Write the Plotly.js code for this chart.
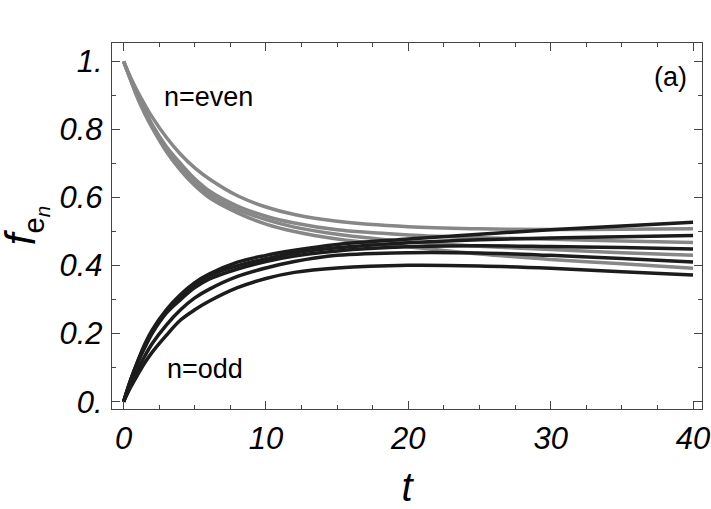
<!DOCTYPE html>
<html>
<head>
<meta charset="utf-8">
<script src="https://cdn.plot.ly/plotly-3.0.1.min.js"></script>
<style>
  html, body { margin: 0; padding: 0; background: #fff; }
  #plot { width: 711px; height: 509px; }
</style>
</head>
<body>
<div id="plot"></div>
<script>
// sample times
const t = [0, 0.5, 1, 1.5, 2, 3, 4, 5, 6, 8, 10, 12, 15, 20, 25, 30, 35, 40];

// n = even occupations (start at 1)
const even1 = [1, 0.952, 0.910, 0.872, 0.837, 0.777, 0.727, 0.687, 0.655, 0.605, 0.572, 0.550, 0.530, 0.514, 0.508, 0.506, 0.507, 0.508];
const even2 = [1, 0.948, 0.900, 0.856, 0.815, 0.750, 0.700, 0.655, 0.620, 0.575, 0.545, 0.525, 0.505, 0.490, 0.482, 0.477, 0.472, 0.468];
const even3 = [1, 0.946, 0.895, 0.850, 0.810, 0.742, 0.690, 0.645, 0.610, 0.565, 0.535, 0.513, 0.492, 0.470, 0.457, 0.447, 0.438, 0.430];
const even4 = [1, 0.944, 0.890, 0.845, 0.805, 0.735, 0.680, 0.635, 0.600, 0.555, 0.522, 0.500, 0.478, 0.455, 0.434, 0.418, 0.405, 0.392];

// n = odd occupations (start at 0)
const odd1 = [0, 0.065, 0.120, 0.170, 0.210, 0.270, 0.315, 0.350, 0.375, 0.410, 0.430, 0.445, 0.462, 0.478, 0.492, 0.505, 0.516, 0.527];
const odd2 = [0, 0.064, 0.118, 0.165, 0.205, 0.265, 0.310, 0.345, 0.370, 0.400, 0.420, 0.437, 0.452, 0.467, 0.476, 0.481, 0.485, 0.488];
const odd3 = [0, 0.062, 0.115, 0.160, 0.200, 0.260, 0.300, 0.335, 0.360, 0.390, 0.412, 0.428, 0.443, 0.455, 0.458, 0.456, 0.453, 0.449];
const odd4 = [0, 0.050, 0.095, 0.135, 0.170, 0.225, 0.270, 0.305, 0.330, 0.368, 0.393, 0.412, 0.430, 0.438, 0.437, 0.430, 0.421, 0.4105];
const odd5 = [0, 0.043, 0.080, 0.115, 0.145, 0.195, 0.240, 0.270, 0.295, 0.335, 0.362, 0.380, 0.393, 0.401, 0.399, 0.392, 0.382, 0.372];

const xTicks = [0, 10, 20, 30, 40];
const yTickVals = [0, 0.2, 0.4, 0.6, 0.8, 1];
const yTickText = ['0.', '0.2', '0.4', '0.6', '0.8', '1.'];

const GRAY = '#878787';
const DARK = '#1c1c1c';
const FONT = 'Liberation Sans, Arial, sans-serif';

function curve(y, color) {
  return {
    x: t, y: y, type: 'scatter', mode: 'lines',
    line: { color: color, width: 3.5, shape: 'spline', smoothing: 1 },
    hoverinfo: 'skip', showlegend: false
  };
}

const traces = [
  curve(even1, GRAY), curve(even2, GRAY), curve(even3, GRAY), curve(even4, GRAY),
  curve(odd1, DARK), curve(odd2, DARK), curve(odd3, DARK), curve(odd4, DARK), curve(odd5, DARK)
];

const axisCommon = {
  showline: true, linecolor: '#444', linewidth: 1.2,
  mirror: 'allticks', ticks: 'inside', tickcolor: '#444', tickwidth: 1,
  ticklen: 8, showgrid: false, zeroline: false,
  tickfont: { family: FONT, size: 31, color: '#000', style: 'italic' }
};

const layout = {
  width: 711, height: 509,
  margin: { l: 112, r: 9, t: 43, b: 100 },
  paper_bgcolor: '#fff', plot_bgcolor: '#fff',
  xaxis: Object.assign({}, axisCommon, {
    range: [-0.815, 40.63],
    tickvals: xTicks,
    minor: { dtick: 2.5, ticks: 'inside', ticklen: 4, tickcolor: '#444', tickwidth: 1 },
    ticklabelstandoff: 2,
    title: { text: '<i>t</i>', font: { family: FONT, size: 40, color: '#000' }, standoff: 18 }
  }),
  yaxis: Object.assign({}, axisCommon, {
    range: [-0.0215, 1.054],
    tickvals: yTickVals, ticktext: yTickText,
    minor: { dtick: 0.1, ticks: 'inside', ticklen: 4, tickcolor: '#444', tickwidth: 1 },
    ticklabelstandoff: 2
  }),
  annotations: [
    // y-axis label, placed by hand for a tight fit beside the tick labels
    { x: -0.147, y: 0.5, xref: 'paper', yref: 'paper', xanchor: 'center', yanchor: 'middle',
      text: '<i>f</i><sub>e<sub><i>n</i></sub></sub>', textangle: -90, showarrow: false,
      font: { family: FONT, size: 42, color: '#000' } },
    { x: 38.45, y: 0.954, xref: 'x', yref: 'y', text: '(a)', showarrow: false,
      font: { family: FONT, size: 27, color: '#000' } },
    { x: 5.99, y: 0.895, xref: 'x', yref: 'y', text: 'n=even', showarrow: false,
      font: { family: FONT, size: 27, color: '#000' } },
    { x: 5.70, y: 0.095, xref: 'x', yref: 'y', text: 'n=odd', showarrow: false,
      font: { family: FONT, size: 27, color: '#000' } }
  ]
};

Plotly.newPlot('plot', traces, layout, { displayModeBar: false, staticPlot: true });
</script>
</body>
</html>
